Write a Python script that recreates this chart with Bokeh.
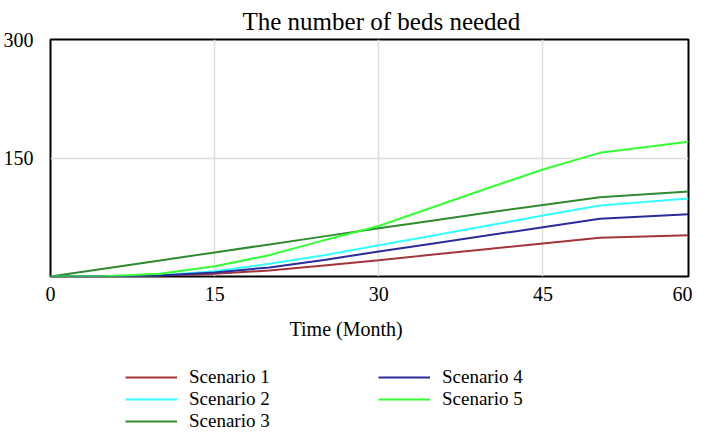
from bokeh.plotting import figure
from bokeh.models import Legend, LegendItem, FixedTicker, Range1d, Title
from bokeh.layouts import column
from bokeh.embed import file_html
from bokeh.resources import INLINE

# time axis (months); the plotted window ends just before the "60" label
months = [0, 5, 10, 15, 20, 25, 30, 35, 40, 45, 50.2, 58.3]
scenario1 = [0, 0.1, 1, 3.5, 7.5, 14, 20.6, 27.7, 34.8, 41.8, 49, 52.3]
scenario2 = [0, 0.2, 1.5, 6.5, 16, 27, 39.5, 52, 64.6, 77.2, 89.9, 98.7]
scenario3 = [0, 10.2, 20.3, 30.5, 40.6, 50.8, 61, 71, 81, 90.5, 100.4, 107.6]
scenario4 = [0, 0.1, 1.2, 5, 11.5, 21, 31.6, 41.8, 52.1, 62.4, 73, 78.9]
scenario5 = [0, 0.3, 3.5, 13, 27, 46, 64, 88, 112, 135.4, 156.5, 170.5]

names = ["Scenario 1", "Scenario 2", "Scenario 3", "Scenario 4", "Scenario 5"]
series = [scenario1, scenario2, scenario3, scenario4, scenario5]
colors = ["#A3343C", "#33FFFF", "#2E8B2E", "#2B2B99", "#33FF33"]

x_end = 58.3
x_ticks = [0, 15, 30, 45, x_end]
x_tick_labels = ["0", "15", "30", "45", "60"]
y_ticks = [150, 300]

SERIF = "Liberation Serif"

p = figure(frame_width=638, frame_height=237, output_backend="svg", toolbar_location=None,
           x_range=Range1d(0, x_end), y_range=Range1d(0, 300),
           min_border_left=43, min_border_right=4, min_border_top=32, min_border_bottom=75)

p.title.text = "The number of beds needed"
p.title.align = "left"
p.title.offset = 192
p.title.text_font = SERIF
p.title.text_font_size = "25px"
p.title.text_font_style = "normal"
p.title.text_color = "#000000"

p.outline_line_color = "black"
p.outline_line_width = 2

p.xaxis.ticker = FixedTicker(ticks=x_ticks)
p.xaxis.major_label_overrides = {t: l for t, l in zip(x_ticks, x_tick_labels)}
p.yaxis.ticker = FixedTicker(ticks=y_ticks)
for ax in (p.xaxis[0], p.yaxis[0]):
    ax.axis_line_color = None
    ax.major_tick_line_color = None
    ax.minor_tick_line_color = None
    ax.major_label_text_font = SERIF
    ax.major_label_text_font_size = "20px"
    ax.major_label_text_color = "#000000"
p.xaxis.major_label_standoff = 4
p.yaxis.major_label_standoff = 11

xlabel = Title(text="Time (Month)", align="left", offset=239,
               text_font=SERIF, text_font_size="20px", text_font_style="normal",
               text_color="#000000", standoff=24)
p.add_layout(xlabel, "below")

p.xgrid.grid_line_color = "#DDDDDD"
p.ygrid.grid_line_color = "#DDDDDD"
p.xgrid.grid_line_width = 1.5
p.ygrid.grid_line_width = 1.5

for ys, c in zip(series, colors):
    p.line(months, ys, line_color=c, line_width=2)

# legend strip below the chart (its lines sit outside the visible range)
lg_fig = figure(width=691, height=81, output_backend="svg", toolbar_location=None,
                x_range=Range1d(0, 1), y_range=Range1d(-2, -1),
                x_axis_type=None, y_axis_type=None,
                min_border_left=0, min_border_right=0, min_border_top=0, min_border_bottom=0)
lg_fig.grid.visible = False
lg_fig.outline_line_color = None

keys = [lg_fig.line(months, ys, line_color=c, line_width=2) for ys, c in zip(series, colors)]

def make_legend(idx, loc):
    items = [LegendItem(label=names[i], renderers=[keys[i]]) for i in idx]
    return Legend(items=items, location=loc, orientation="vertical",
                  border_line_color=None, background_fill_alpha=0,
                  padding=0, margin=0, spacing=0,
                  glyph_width=52, glyph_height=22, label_height=22,
                  label_standoff=12,
                  label_text_font=SERIF, label_text_font_size="19px",
                  label_text_color="#000000")

lg_fig.add_layout(make_legend([0, 1, 2], (75, 0)), "center")
lg_fig.add_layout(make_legend([3, 4], (328, 22)), "center")

layout = column(p, lg_fig)
open("out.html", "w").write(file_html(layout, INLINE))
